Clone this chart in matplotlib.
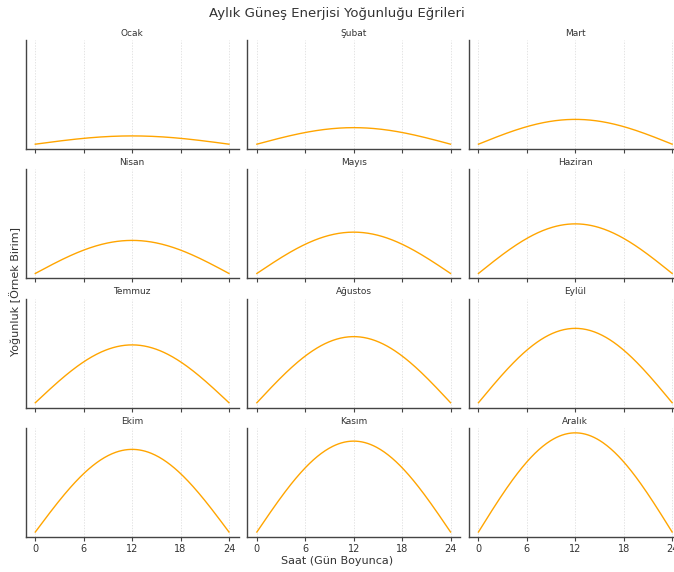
import numpy as np
import matplotlib
matplotlib.use("Agg")
import matplotlib.pyplot as plt

months = ["Ocak", "Şubat", "Mart", "Nisan", "Mayıs", "Haziran",
          "Temmuz", "Ağustos", "Eylül", "Ekim", "Kasım", "Aralık"]
peak_values = [1, 2, 3, 4, 5, 6, 7, 8, 9, 10, 11, 12]
hours = np.linspace(0, 24, 200)
x_ticks = [0, 6, 12, 18, 24]

plt.rcParams['font.family'] = ['DejaVu Sans']
fig, axes = plt.subplots(4, 3, figsize=(6.74, 5.72), dpi=100, sharex=True, sharey=True)
fig.subplots_adjust(left=0.038, right=1.0116, top=0.930, bottom=0.0612,
                    wspace=0.04, hspace=0.185)

spine_col = '#444444'
for ax, name, pk in zip(axes.flat, months, peak_values):
    y = pk * np.sin(np.pi * hours / 24)
    ax.plot(hours, y, color='#FFA500', lw=1.0)
    ax.set_title(name, fontsize=6.5, color='#333333', pad=3)
    ax.set_xticks(x_ticks)
    ax.set_yticks([])
    ax.grid(axis='x', color='#d9d9d9', linestyle=(0, (2, 2)), linewidth=0.5)
    for s in ['top', 'right']:
        ax.spines[s].set_visible(False)
    for s in ['left', 'bottom']:
        ax.spines[s].set_color(spine_col)
        ax.spines[s].set_linewidth(1.0)
    ax.tick_params(axis='x', direction='out', length=3, width=0.8,
                   color=spine_col, labelsize=7, labelcolor='#333333', pad=2)

fig.suptitle("Aylık Güneş Enerjisi Yoğunluğu Eğrileri", fontsize=9.5,
             color='#333333', y=0.988)
fig.text(0.5, 0.019, "Saat (Gün Boyunca)", ha='center', va='center',
         fontsize=8, color='#333333')
fig.text(0.022, 0.49, "Yoğunluk [Örnek Birim]", ha='center', va='center',
         rotation=90, fontsize=8, color='#333333')

fig.savefig("out.png", dpi=100)
